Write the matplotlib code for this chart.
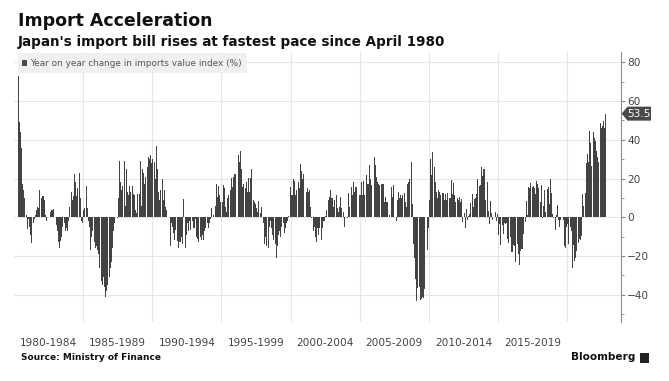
import numpy as np
import matplotlib.pyplot as plt
from matplotlib.patches import Polygon, Rectangle

# Monthly year-on-year change in Japan's imports value index (%), Apr 1980 - Oct 2022
y1980 = [73, 49, 44, 36, 17, 14, 10, 1, -6]  # Apr-Dec
y1981 = [-1, -5, -9, -13, -3, -1, 1, 4, 5.5, 5, 14, 10]
y1982 = [11, 11, 9, 1, -2, -3, 0, 3, 4, 4, 4.5, 0]
y1983 = [-4, -7, -12.5, -16, -12, -10, -5, -3, -7, -5.6, -7, -2]
y1984 = [5.5, 13, 9, 11, 22.5, 18, 11, 15, 23, 10, -2, -3]
y1985 = [4, 5, 16, 5, -2, -5, -17, -10, -7, -12.5, -16, -15]
y1986 = [-17, -19, -26, -33, -35, -31, -36, -41, -38, -35, -31, -26]
y1987 = [-23, -16, -7, -3, -2, -0.5, 10, 29, 18, 14, 16, 29]
y1988 = [6, 25, 13, 11.5, 16, 13, 16, 12, 11.5, 4, 2, 12]
y1989 = [12, 29, 6, 25, 23, 17, 21, 26, 31, 30, 32, 28]
y1990 = [30, 28.5, 20, 37, 25, 13, 9, 14, 20, 9, 14, 5.5]
y1991 = [4, 0, -0.5, -15, -3, -5, -8, -11.6, -6.5, -12, -16, -12.5]
y1992 = [-12.5, -10, -14, 9.4, -16, -9, -3, -7, -2, -6.5, -2, -5.6]
y1993 = [-5.6, -1, -10, -11, -12.5, -10, -11.6, -9, -11.6, -7, -5.6, -3]
y1994 = [-5.6, -3, -1, 4.6, 0, 1, 6, 17, 10.6, 16, 11.5, 8]
y1995 = [8, 16.6, 15, 5.5, 3, 10, 11.5, 14, 20.5, 15.7, 21, 22.6]
y1996 = [22.6, 27, 32, 28.5, 34, 25, 15.7, 17.4, 15, 18, 13, 20.5]
y1997 = [13, 20.5, 25, 9, 8, 7, 4.6, 3, 8.4, 2, 5.5, 0]
y1998 = [-3, -14, -10, -15, -16, -5, -2, -5.6, -9, -11.6, -14, -21]
y1999 = [-15, -9, -7, -10, -5, -3, -8, -5.6, -3, -2, 0.5, 15.7]
y2000 = [11.5, 11.5, 19.7, 19, 11.5, 14, 18, 15, 27.7, 24, 20, 22.6]
y2001 = [22.6, 13, 15, 13, 14, 5.5, -0.5, -7, -5, -10, -12.5, -5.6]
y2002 = [-9, -5.6, -11.6, -5.6, -2, -2, 0.5, 3.8, 9, 10.6, 14, 10]
y2003 = [10, 5.5, 9, 11.5, 4.6, 3, 5.5, 10.6, 5, 3, -5, 0]
y2004 = [0, -0.5, 12.3, 5.5, 15.7, 11.5, 18, 13, 15.7, 15.7, 28, 11.5]
y2005 = [11.5, 18, 11.5, 18.6, 11.5, 21.7, 17.4, 17.4, 26.8, 20, 16.6, 27.7]
y2006 = [31, 26.8, 21, 18, 17.4, 16.6, 17.4, 17.4, 17.4, 8, 10.6, 8]
y2007 = [8, 1, 0, 15.7, 10.6, 16.6, 0, -2, 9, 13, 10, 11.5]
y2008 = [10, 11.5, 12.3, 8, 5.5, 17.4, 18, 20, 28.5, 7, -14, -21]
y2009 = [-31.7, -43, -36.7, -35.7, -42.4, -41.9, -41, -41.6, -36.8, -35.5, -16.8, -5.6]
y2010 = [8.9, 30, 21.7, 33.7, 26, 18, 13, 10, 14, 13, 11.5, 12.3]
y2011 = [12.4, 9, 11.9, 8.9, 12.3, 9.8, 9.9, 19.2, 12.1, 17.9, 11.4, 8.1]
y2012 = [9.8, 9.2, 10.5, 8, 9.3, -2.2, 2.1, -5.4, 4.1, -1.6, 0.8, 1.9]
y2013 = [7.3, 11.9, 5.5, 9.4, 10.0, 11.8, 19.6, 16.0, 16.5, 26.1, 21.1, 24.7]
y2014 = [25, 9, 18.1, 3.4, -3.6, 8.4, 2.3, -1.5, 6.2, 2.7, -1.7, 1.9]
y2015 = [-9, -3.6, -14.5, -4.2, -8.7, -2.9, -3.2, -3.1, -11.1, -13.4, -10.2, -18]
y2016 = [-18, -14.2, -14.9, -23.3, -13.8, -18.8, -24.7, -17.3, -16.3, -16.5, -8.8, -2.6]
y2017 = [8.5, 1.2, 15.8, 15.1, 17.8, 15.5, 16.3, 15.2, 12.0, 18.9, 17.2, 14.9]
y2018 = [7.9, 16.5, -0.6, 5.9, 14.0, 2.5, 14.6, 15.4, 7.0, 19.9, 12.5, 1.9]
y2019 = [-0.6, -6.7, 1.1, 6.4, -1.5, -5.2, -1.2, -12.0, -1.5, -14.8, -15.7, -4.9]
y2020 = [-3.6, -13.9, -5.0, -7.2, -26.2, -14.4, -22.3, -20.8, -17.2, -13.3, -11.1, -11.6]
y2021 = [-9.5, 11.8, 5.7, 12.8, 27.9, 32.7, 28.5, 44.7, 38.6, 26.7, 43.8, 41.1]
y2022 = [39.6, 34.1, 31.2, 28.3, 48.9, 46.1, 47.2, 49.9, 45.9, 53.5]  # Jan-Oct

period_labels = ["1980-1984", "1985-1989", "1990-1994", "1995-1999",
                 "2000-2004", "2005-2009", "2010-2014", "2015-2019"]

values = np.array(y1980 + y1981 + y1982 + y1983 + y1984 + y1985 + y1986 + y1987
                  + y1988 + y1989 + y1990 + y1991 + y1992 + y1993 + y1994 + y1995
                  + y1996 + y1997 + y1998 + y1999 + y2000 + y2001 + y2002 + y2003
                  + y2004 + y2005 + y2006 + y2007 + y2008 + y2009 + y2010 + y2011
                  + y2012 + y2013 + y2014 + y2015 + y2016 + y2017 + y2018 + y2019
                  + y2020 + y2021 + y2022, dtype=float)
dates = 1980 + (3 + np.arange(len(values))) / 12 + 1 / 24

W, H = 669, 381
narrow = ['Liberation Sans Narrow', 'DejaVu Sans']


def fx(x):
    return x / W


def fy(y):
    return 1 - y / H


fig = plt.figure(figsize=(W / 100, H / 100), dpi=100)
ax = fig.add_axes([fx(14), fy(322), fx(620.7 - 14), (322 - 52) / H])

ax.bar(dates, values, width=0.85 / 12, color='#434343', linewidth=0, zorder=2)
ax.set_xlim(1980, 2023.87)
ax.set_ylim(-54, 85.3)

for s in ['left', 'top', 'bottom']:
    ax.spines[s].set_visible(False)
ax.spines['right'].set_color('#8c8c8c')
ax.spines['right'].set_linewidth(0.8)

ax.yaxis.tick_right()
ax.set_yticks(range(-40, 81, 20))
ax.set_yticks(range(-50, 81, 10), minor=True)
ax.tick_params(axis='y', which='major', length=3, width=0.8, color='#8c8c8c',
               labelsize=7.6, labelcolor='#444444', pad=1.5)
ax.tick_params(axis='y', which='minor', length=2, width=0.6, color='#8c8c8c')
for lab in ax.get_yticklabels():
    lab.set_family(narrow)

ax.set_xticks(range(1985, 2021, 5))
ax.set_xticklabels([])
ax.set_xticks([1982.5 + 5 * i for i in range(len(period_labels))], minor=True)
ax.set_xticklabels(period_labels, minor=True)
ax.tick_params(axis='x', which='both', length=0, labelsize=7.6,
               labelcolor='#444444', pad=11.5)
for lab in ax.get_xticklabels(minor=True):
    lab.set_family(narrow)

ax.grid(True, which='major', color='#e6e6e6', linewidth=0.8, zorder=0)
ax.set_axisbelow(True)

# legend box
fig.add_artist(Rectangle((fx(18), fy(73)), fx(229), 20 / H, transform=fig.transFigure,
                         facecolor='#f0f0f0', edgecolor='none'))
fig.add_artist(Rectangle((fx(22), fy(66)), fx(5), 6 / H, transform=fig.transFigure,
                         facecolor='#4a4a4a', edgecolor='none'))
fig.text(fx(30), fy(63), "Year on year change in imports value index (%)",
         fontsize=6.4, color='#555555', va='center', ha='left', family=narrow)

# last value tag
last = values[-1]
ty = 217.3 - last * 1.9375
fig.add_artist(Polygon([(fx(621.7), fy(ty)), (fx(627.5), fy(ty - 7)), (fx(651), fy(ty - 7)),
                        (fx(651), fy(ty + 7)), (fx(627.5), fy(ty + 7))],
                       closed=True, transform=fig.transFigure,
                       facecolor='#4a4a4a', edgecolor='none'))
fig.text(fx(638.5), fy(ty), f"{last:.1f}", fontsize=7.6, color='white',
         ha='center', va='center', family=narrow)

# titles
fig.text(fx(18), fy(21), "Import Acceleration", fontsize=12.5, fontweight='bold',
         color='#111111', ha='left', va='center')
fig.text(fx(18), fy(42), "Japan's import bill rises at fastest pace since April 1980",
         fontsize=9.75, fontweight='bold', color='#111111', ha='left', va='center')
fig.text(fx(21), fy(357.5), "Source: Ministry of Finance", fontsize=6.5,
         fontweight='bold', color='#111111', ha='left', va='center')
fig.text(fx(635), fy(357), "Bloomberg", fontsize=7.6, fontweight='bold',
         color='#111111', ha='right', va='center')
fig.add_artist(Rectangle((fx(640), fy(363)), fx(9), 10 / H, transform=fig.transFigure,
                         facecolor='#222222', edgecolor='none'))

fig.savefig("out.png", dpi=100)
